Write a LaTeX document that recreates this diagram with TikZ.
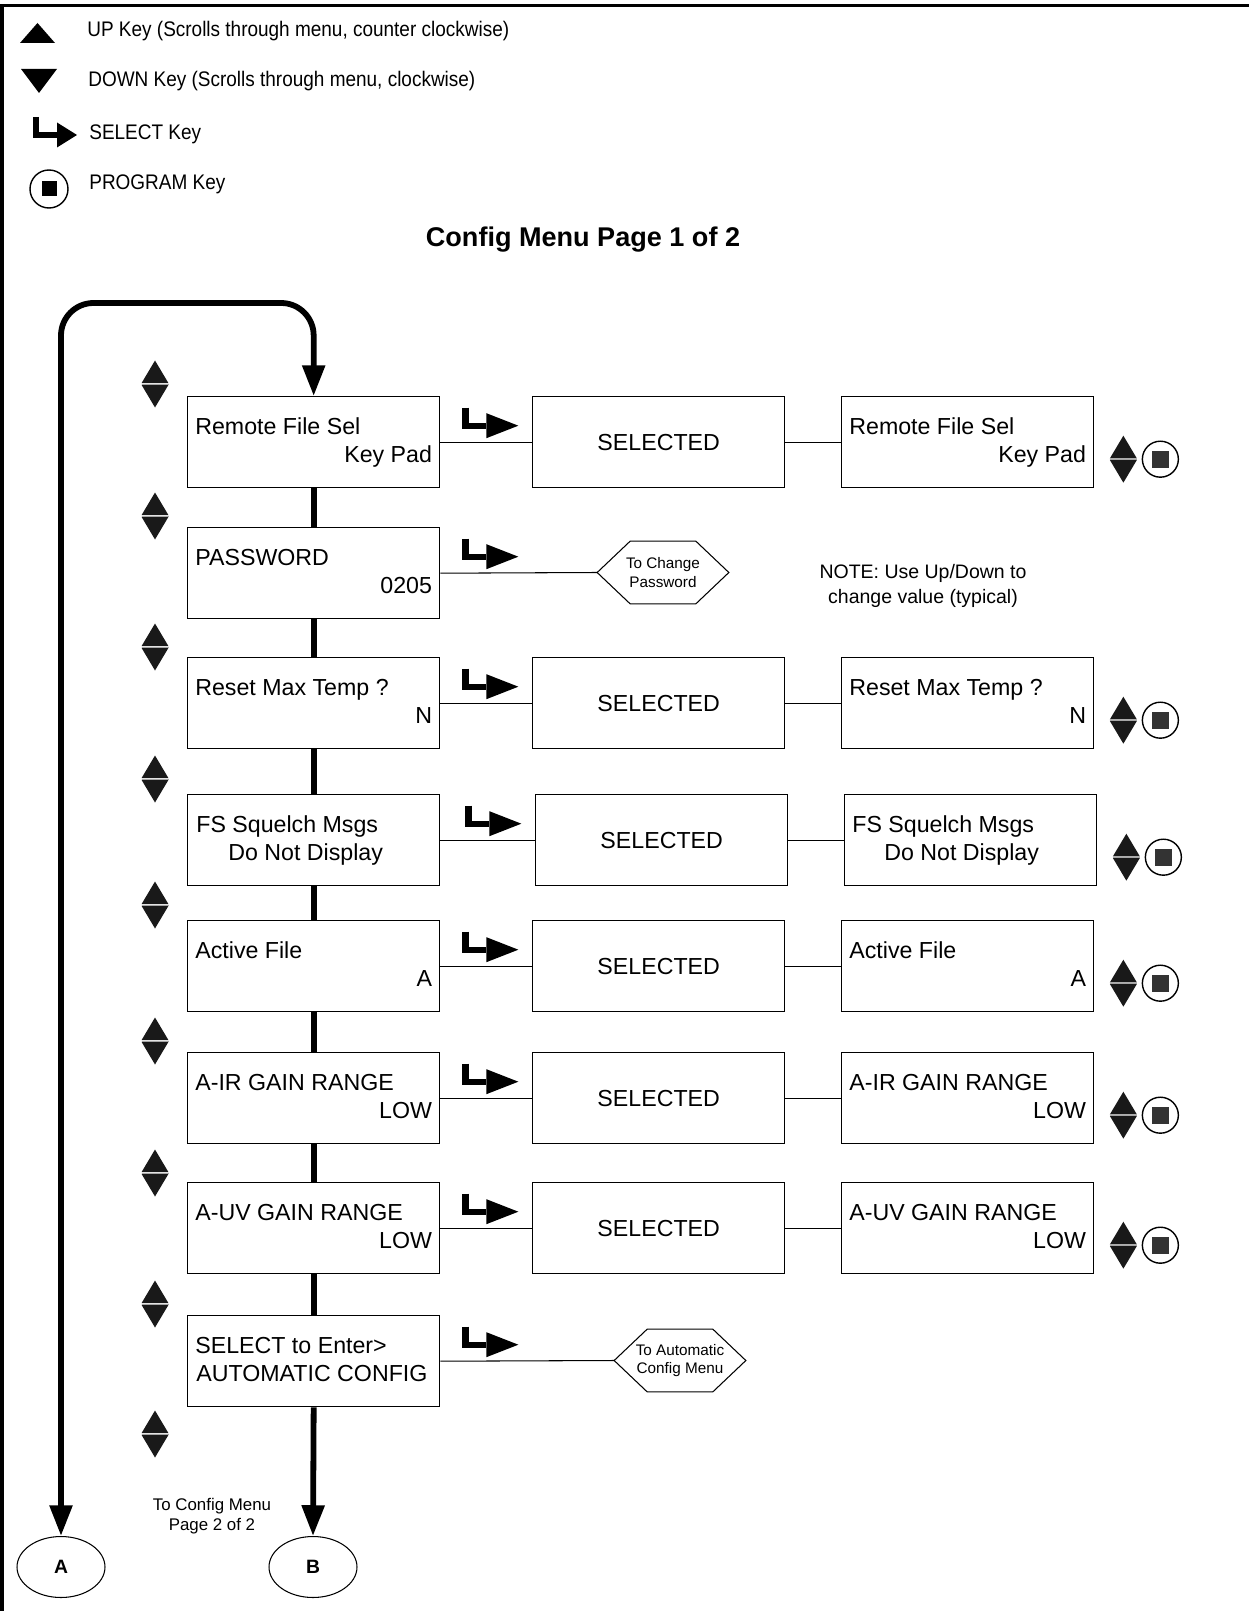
\documentclass[tikz,border=0pt]{standalone}
\usepackage{fontspec}
\setmainfont{Liberation Sans}
\newfontfamily\keyfont[FakeStretch=0.9]{Liberation Sans}
\usetikzlibrary{arrows.meta, shapes.geometric, calc}

\newcommand\boxfont{\fontsize{13.2}{16}\selectfont}

\tikzset{
  bigtip/.tip={Triangle[length=17.5pt,width=12.5pt]},
  menubox/.style={draw, line width=0.8pt, minimum width=5.04cm, minimum height=1.82cm, inner sep=0pt, anchor=north west},
  boxtext/.style={font=\boxfont, inner sep=0pt},
  link/.style={line width=0.6pt},
  flow/.style={line width=3.3pt},
  hexnote/.style={minimum width=2.62cm, minimum height=1.24cm, inner sep=0pt, align=center, font=\fontsize{8.7}{10.5}\selectfont},
  keytext/.style={anchor=base west, inner sep=0pt, font=\keyfont\fontsize{12}{14}\selectfont},
  pageref/.style={draw, ellipse, line width=0.6pt, minimum width=1.76cm, minimum height=1.22cm, font=\bfseries\fontsize{11}{13}\selectfont},
  pics/updown/.style={code={
    \fill[black!90] (-13.5,-0.8) -- (0,-23.5) -- (13.5,-0.8) -- cycle;
    \fill[black!90] (-13.5,0.8) -- (0,23.5) -- (13.5,0.8) -- cycle;
    \draw[black!35, line width=0.5pt] (-13.5,0) -- (13.5,0);
  }},
  pics/selkey/.style={code={
    \draw[line width=3.6pt] (0,-18) -- (0,0) -- (21,0);
    \fill (21,-12.5) -- (#1,0) -- (21,12.5) -- cycle;
  }},
  pics/progkey/.style args={#1/#2/#3}{code={
    \draw[line width=0.8pt] (0,0) circle[radius=#1];
    \fill[#3] (-#2,-#2) rectangle (#2,#2);
  }},
}

\begin{document}
\begin{tikzpicture}[x=0.02cm, y=-0.02cm]
\useasboundingbox (0,0) rectangle (1249,1611);
\draw[line width=1.9pt] (2,1611) -- (2,5.5) -- (1249,5.5);

% key legend
\fill (20,43) -- (37.5,23) -- (55,43) -- cycle;
\fill (21,69) -- (57,69) -- (39,93) -- cycle;
\pic at (36,135) {selkey=41};
\pic at (49,189) {progkey=19/7.5/black};
\node[keytext] (upkey) at (87,37) {UP Key (Scrolls through menu, counter clockwise)};
\node[keytext] (downkey) at (88,87) {DOWN Key (Scrolls through menu, clockwise)};
\node[keytext] (selkey) at (89,140) {SELECT Key};
\node[keytext] (progkey) at (89,190) {PROGRAM Key};

\node[font=\bfseries\fontsize{15.4}{18}\selectfont, anchor=base] (title) at (583,247) {Config Menu Page 1 of 2};

% rows with SELECTED step
\foreach \n/\ty/\la/\lb in {1/396/Remote File Sel/Key Pad, 3/657/Reset Max Temp ?/N, 5/920/Active File/A, 6/1052/A-IR GAIN RANGE/LOW, 7/1182/A-UV GAIN RANGE/LOW}{
  \node[menubox] (r\n) at (187,\ty) {};
  \node[boxtext, anchor=base west] (ra\n) at ($(r\n.north west)+(8,38)$) {\la};
  \node[boxtext, anchor=base east] (rb\n) at ($(r\n.north east)+(-8,66)$) {\lb};
  \node[menubox, font=\boxfont] (s\n) at (532,\ty) {SELECTED};
  \node[menubox] (v\n) at (841,\ty) {};
  \node[boxtext, anchor=base west] (va\n) at ($(v\n.north west)+(8,38)$) {\la};
  \node[boxtext, anchor=base east] (vb\n) at ($(v\n.north east)+(-8,66)$) {\lb};
  \draw[link] (r\n.east) -- (s\n.west);
  \draw[link] (s\n.east) -- (v\n.west);
  \pic at ($(r\n.east)+(25,-16.5)$) {selkey=53};
  \pic at ($(v\n.east)+(29,17)$) {updown};
  \pic at ($(v\n.east)+(66,17)$) {progkey=18/8.5/black!80};
}

% password
\node[menubox] (r2) at (187,527) {};
\node[boxtext, anchor=base west] (ra2) at ($(r2.north west)+(8,38)$) {PASSWORD};
\node[boxtext, anchor=base east] (rb2) at ($(r2.north east)+(-8,66)$) {0205};
\pic at ($(r2.east)+(25,-16.5)$) {selkey=53};
\node[hexnote] (pwhex) at (663,572.5) {To Change\\Password};
\draw[link] (r2.east) -- (pwhex.west);
\node[align=center, font=\fontsize{11.1}{14}\selectfont] (note) at (923,586) {NOTE: Use Up/Down to\\change value (typical)};

% squelch messages
\node[menubox] (r4) at (187,794) {};
\node[boxtext, anchor=base west] (ra4) at ($(r4.north west)+(9,38)$) {FS Squelch Msgs};
\node[boxtext, anchor=base west] (rb4) at ($(r4.north west)+(41,66)$) {Do Not Display};
\node[menubox, font=\boxfont] (s4) at (535,794) {SELECTED};
\node[menubox] (v4) at (844,794) {};
\node[boxtext, anchor=base west] (va4) at ($(v4.north west)+(8,38)$) {FS Squelch Msgs};
\node[boxtext, anchor=base west] (vb4) at ($(v4.north west)+(40,66)$) {Do Not Display};
\draw[link] (r4.east) -- (s4.west);
\draw[link] (s4.east) -- (v4.west);
\pic at ($(r4.east)+(28,-16.5)$) {selkey=53};
\pic at ($(v4.east)+(29,17)$) {updown};
\pic at ($(v4.east)+(66,17)$) {progkey=18/8.5/black!80};

% automatic config
\node[menubox] (r8) at (187,1315) {};
\node[boxtext, anchor=base west] (ra8) at ($(r8.north west)+(8,38)$) {SELECT to Enter>};
\node[boxtext, anchor=base west] (rb8) at ($(r8.north west)+(9,66)$) {AUTOMATIC CONFIG};
\pic at ($(r8.east)+(25,-16.5)$) {selkey=53};
\node[hexnote] (autohex) at (680,1360.5) {To Automatic\\Config Menu};
\draw[link] (r8.east) -- (autohex.west);

\foreach \h in {pwhex, autohex}
  \draw[link] (\h.west) -- ($(\h.north west)+(33,0)$) -- ($(\h.north east)+(-33,0)$) -- (\h.east)
    -- ($(\h.south east)+(-33,0)$) -- ($(\h.south west)+(33,0)$) -- cycle;

\foreach \i [count=\j from 2] in {1,...,7}
  \draw[flow] (r\i.south) -- (r\j.north);

\foreach \y in {384,516,647,779,905,1041,1173,1304,1434}
  \pic at (155,\y) {updown};

% links to page 2
\node[pageref] (A) at (61,1567) {A};
\node[pageref] (B) at (313,1567) {B};
\node[align=center, font=\fontsize{9.6}{11.5}\selectfont] (pagetwo) at (212,1516) {To Config Menu\\Page 2 of 2};
\coordinate (looptop) at (61,303);
\draw[flow, rounded corners=0.65cm, bigtip-bigtip] (A.north) -- (looptop) -| (r1.north);
\draw[flow, -bigtip] (r8.south) -- (B.north);
\end{tikzpicture}
\end{document}
